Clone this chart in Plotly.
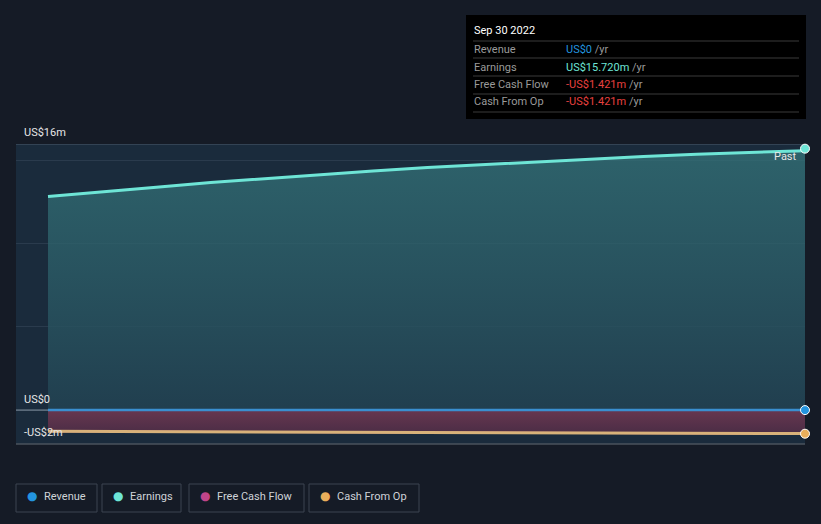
import plotly.graph_objects as go
import pandas as pd

dates = pd.date_range("2019-03-31", "2022-09-30", freq="QE")
earnings = [12.84, 13.1, 13.4, 13.68, 13.92, 14.15, 14.38, 14.58, 14.75, 14.92, 15.1, 15.25, 15.38, 15.48, 15.6, 15.72]
revenue = [0.0] * 16
fcf = [-1.28, -1.29, -1.30, -1.31, -1.32, -1.33, -1.34, -1.35, -1.36, -1.37, -1.38, -1.39, -1.40, -1.41, -1.415, -1.421]
cfo = list(fcf)

legend_names = ["Revenue", "Earnings", "Free Cash Flow", "Cash From Op"]
legend_colors = ["#2394df", "#6ee5d6", "#c0458a", "#e9ae5b"]

BG = "#151b26"
PLOT_BG = "#1a2b3c"

x0 = dates[0]
x1 = dates[-1]
span = x1 - x0
xstart = x0 - span * (32 / 757)

fig = go.Figure()
fig.add_trace(go.Scatter(x=list(dates), y=earnings, mode="lines", line=dict(color="#6ee5d6", width=3),
                         fill="tozeroy",
                         fillgradient=dict(type="vertical", colorscale=[[0, "rgba(34,66,82,0.85)"], [1, "rgba(52,116,122,0.75)"]]),
                         hoverinfo="skip", showlegend=False))
fig.add_trace(go.Scatter(x=list(dates), y=fcf, mode="lines", line=dict(color="#c0458a", width=2),
                         fill="tozeroy",
                         fillgradient=dict(type="vertical", colorscale=[[0, "rgba(80,45,70,0.9)"], [1, "rgba(112,56,82,0.9)"]]),
                         hoverinfo="skip", showlegend=False))
fig.add_trace(go.Scatter(x=list(dates), y=cfo, mode="lines", line=dict(color="#d8b27a", width=3),
                         hoverinfo="skip", showlegend=False))
fig.add_trace(go.Scatter(x=list(dates), y=revenue, mode="lines", line=dict(color="#3a8fd0", width=2.5),
                         hoverinfo="skip", showlegend=False))
fig.add_trace(go.Scatter(x=[dates[-1]] * 3, y=[earnings[-1], revenue[-1], cfo[-1]], mode="markers",
                         marker=dict(color=["#6ee5d6", "#2394df", "#e9ae5b"], size=9, line=dict(color="white", width=1)),
                         hoverinfo="skip", showlegend=False, cliponaxis=False))

shapes = []
shapes.append(dict(type="line", xref="paper", yref="y", x0=0, x1=1, y0=16, y1=16, line=dict(color="#3d4c5c", width=1.5), layer="below"))
shapes.append(dict(type="line", xref="paper", yref="paper", x0=0, x1=1, y0=0, y1=0, line=dict(color="#4a535d", width=1.5)))
shapes.append(dict(type="line", xref="paper", yref="y", x0=0, x1=1, y0=0, y1=0, line=dict(color="#8a98a8", width=1), layer="below"))

def px(x):
    return (x - 16) / 789
def py(y):
    return (444 - y) / 300

shapes.append(dict(type="rect", xref="paper", yref="paper", x0=px(466), x1=px(806),
                   y0=py(119), y1=py(15), fillcolor="#000000", line=dict(width=0), layer="above"))
for ly in [41, 58, 76, 94, 112]:
    shapes.append(dict(type="line", xref="paper", yref="paper", x0=px(473), x1=px(799),
                       y0=py(ly), y1=py(ly), line=dict(color="#3a3a3a", width=1), layer="above"))

boxes = [(16, 97), (102, 181), (189, 304), (309, 419)]
for (bx0, bx1) in boxes:
    shapes.append(dict(type="rect", xref="paper", yref="paper", x0=px(bx0), x1=px(bx1),
                       y0=py(512), y1=py(484), line=dict(color="#3d4550", width=1),
                       fillcolor="rgba(0,0,0,0)"))

ann = []
font = "Roboto, Inter, sans-serif"
ann.append(dict(x=px(22), y=py(132), text="US$16m", xanchor="left", yanchor="middle", font=dict(color="#e6e6e6", size=11, family=font)))
ann.append(dict(x=px(22), y=py(399), text="US$0", xanchor="left", yanchor="middle", font=dict(color="#e6e6e6", size=11, family=font)))
ann.append(dict(x=px(22), y=py(432), text="-US$2m", xanchor="left", yanchor="middle", font=dict(color="#e6e6e6", size=11, family=font)))
ann.append(dict(x=px(799), y=py(156), text="Past", xanchor="right", yanchor="middle", font=dict(color="#e6e6e6", size=11, family=font)))

ann.append(dict(x=px(472), y=py(31), text="Sep 30 2022", xanchor="left", yanchor="middle", font=dict(color="#ffffff", size=11, family=font)))
rows = [("Revenue", "US$0", "#2394df"), ("Earnings", "US$15.720m", "#6ee5d6"),
        ("Free Cash Flow", "-US$1.421m", "#e8413f"), ("Cash From Op", "-US$1.421m", "#e8413f")]
for i, (lab, val, col) in enumerate(rows):
    yy = [49, 67, 84, 101][i]
    ann.append(dict(x=px(472), y=py(yy), text=lab, xanchor="left", yanchor="middle", font=dict(color="#9a9a9a", size=11, family=font)))
    ann.append(dict(x=px(564), y=py(yy), text=f"<span style='color:{col}'>{val}</span> <span style='color:#9a9a9a'>/yr</span>",
                    xanchor="left", yanchor="middle", font=dict(size=11, family=font)))

legend_x = [(28, 42), (114, 128), (201, 215), (321, 335)]
for (dx, tx), name, col in zip(legend_x, legend_names, legend_colors):
    ann.append(dict(x=px(dx + 4), y=py(496), text="●", xanchor="center", yanchor="middle", font=dict(color=col, size=12, family="DejaVu Sans")))
    ann.append(dict(x=px(tx), y=py(496), text=name, xanchor="left", yanchor="middle", font=dict(color="#cfd3d8", size=11, family=font)))

for a in ann:
    a.update(xref="paper", yref="paper", showarrow=False)

fig.update_layout(
    width=821, height=524,
    margin=dict(l=16, r=16, t=144, b=80),
    paper_bgcolor=BG, plot_bgcolor=PLOT_BG,
    xaxis=dict(range=[xstart, x1], showgrid=False, showticklabels=False, zeroline=False, showline=False, fixedrange=True),
    yaxis=dict(range=[-2.04, 16], showgrid=True, gridcolor="#2a3b4d", gridwidth=1, tickvals=[5, 10, 15],
               showticklabels=False, zeroline=False, showline=False),
    shapes=shapes, annotations=ann, showlegend=False,
)

fig.write_html("out.html", config={"displayModeBar": False},
               post_script="document.body.style.margin='0';document.body.style.background='%s';" % BG)
